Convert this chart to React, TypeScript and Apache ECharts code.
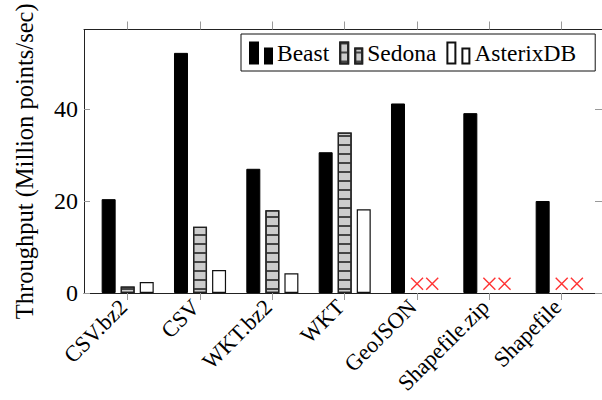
import React, { useEffect, useRef } from "react";
import * as echarts from "echarts";

const categories = ["CSV.bz2", "CSV", "WKT.bz2", "WKT", "GeoJSON", "Shapefile.zip", "Shapefile"];
const beast = [20.4, 52.2, 27.0, 30.6, 41.2, 39.1, 20.0];
const sedona: (number | null)[] = [1.4, 14.4, 18.0, 34.9, null, null, null];
const asterix: (number | null)[] = [2.4, 5.0, 4.3, 18.2, null, null, null];
// categories where Sedona / AsterixDB are not supported (red crosses)
const unsupported = [4, 5, 6];
const crossValue = 2.0;
const yTicks = [0, 20, 40];

const FONT = "'Liberation Serif', 'DejaVu Serif', serif";
const tickIdx = categories.map((_, i) => i);

export default function App() {
  const ref = useRef<HTMLDivElement>(null);
  useEffect(() => {
    if (!ref.current) return;
    const chart = echarts.init(ref.current, undefined, { renderer: "svg" });
    const barIcon = "path://M0,0H8V21H0Z M15,6H22V21H15Z";
    const crossPath = "path://M0,0L10,10M10,0L0,10";
    const crossData: number[][] = [];
    unsupported.forEach((i) => {
      crossData.push([i, crossValue]);
      crossData.push([i + 0.21, crossValue]);
    });
    const axisLine = { show: true, onZero: false, lineStyle: { color: "#222", width: 1 } };
    chart.setOption({
      animation: false,
      textStyle: { fontFamily: FONT },
      grid: { left: 84, top: 29.5, right: 0, bottom: 107, containLabel: false, outerBoundsMode: "none" },
      legend: {
        data: ["Beast", "Sedona", "AsterixDB"],
        left: 241,
        top: 34,
        padding: [7, 19, 6, 8],
        itemGap: 10,
        itemWidth: 22,
        itemHeight: 21,
        borderColor: "#111",
        borderWidth: 1,
        icon: barIcon,
        textStyle: { fontFamily: FONT, fontSize: 23.5, color: "#000" },
      },
      xAxis: [
        {
          type: "value",
          min: -0.604,
          max: 6.557,
          position: "bottom",
          splitLine: { show: false },
          axisLine,
          axisTick: { show: true, inside: false, length: 7, customValues: tickIdx, lineStyle: { color: "#999" } },
          axisLabel: {
            customValues: tickIdx,
            rotate: 45,
            margin: 6,
            align: "right",
            verticalAlign: "middle",
            padding: [0, 6, 0, 0],
            fontFamily: FONT,
            fontSize: 22.5,
            color: "#000",
            formatter: (v: number) => categories[Math.round(v)] ?? "",
          },
        },
        {
          type: "value",
          min: -0.604,
          max: 6.557,
          position: "top",
          splitLine: { show: false },
          axisLine,
          axisTick: { show: true, inside: false, length: 8, customValues: tickIdx, lineStyle: { color: "#999" } },
          axisLabel: { show: false },
        },
      ],
      yAxis: [
        {
          type: "value",
          min: 0,
          max: 57.28,
          position: "left",
          name: "Throughput (Million points/sec)",
          nameLocation: "middle",
          nameGap: 47,
          nameTextStyle: { fontFamily: FONT, fontSize: 24.5, color: "#000" },
          splitLine: { show: false },
          axisLine,
          axisTick: { show: true, inside: true, length: 6, customValues: yTicks, lineStyle: { color: "#999" } },
          axisLabel: { customValues: yTicks, margin: 6, fontFamily: FONT, fontSize: 24, color: "#000" },
        },
        {
          type: "value",
          min: 0,
          max: 57.28,
          position: "right",
          splitLine: { show: false },
          axisLine,
          axisTick: { show: true, inside: true, length: 7, customValues: yTicks, lineStyle: { color: "#999" } },
          axisLabel: { show: false },
        },
      ],
      series: [
        {
          name: "Beast",
          type: "bar",
          barWidth: 14,
          barGap: "36%",
          data: beast.map((v, i) => [i, v]),
          itemStyle: { color: "#000", borderColor: "#000", borderWidth: 1 },
        },
        {
          name: "Sedona",
          type: "bar",
          barWidth: 14,
          barGap: "36%",
          data: sedona.map((v, i) => [i, v]),
          itemStyle: {
            color: "#cccccc",
            borderColor: "#222",
            borderWidth: 1.3,
            decal: {
              symbol: "rect",
              symbolSize: 1,
              dashArrayX: [1, 0],
              dashArrayY: [1.2, 6.8],
              color: "#444",
              rotation: 0,
            },
          },
        },
        {
          name: "AsterixDB",
          type: "bar",
          barWidth: 14,
          barGap: "36%",
          data: asterix.map((v, i) => [i, v]),
          itemStyle: { color: "#fff", borderColor: "#111", borderWidth: 1.2 },
        },
        {
          name: "unsupported",
          type: "scatter",
          symbol: crossPath,
          symbolSize: 12,
          data: crossData,
          itemStyle: { color: "transparent", borderColor: "#ff0000", borderWidth: 1.4 },
          z: 5,
        },
      ],
    });
    return () => chart.dispose();
  }, []);
  return <div ref={ref} style={{ width: 602, height: 400, position: "absolute", left: 0, top: 0 }} />;
}
